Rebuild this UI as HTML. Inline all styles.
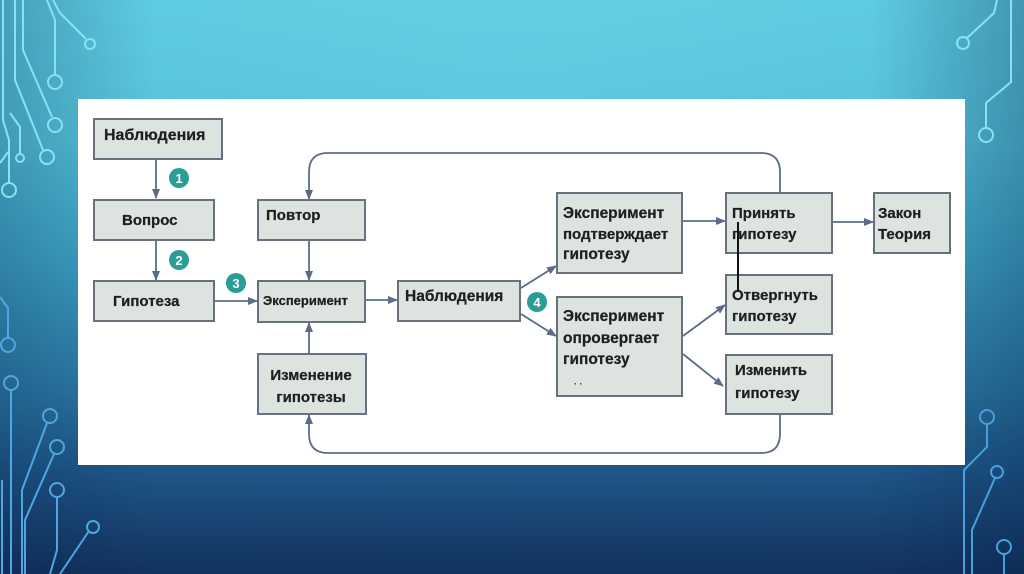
<!DOCTYPE html>
<html>
<head>
<meta charset="utf-8">
<style>
  html,body{margin:0;padding:0;}
  body{width:1024px;height:574px;overflow:hidden;position:relative;
    background:linear-gradient(180deg,#5dcbe0 0%,#55c2da 25%,#3fa6c7 45%,#2b7ba6 68%,#1d5283 84%,#12325d 100%);
    font-family:"Liberation Sans",sans-serif;}
  .shade{position:absolute;left:0;top:0;width:1024px;height:574px;
    background:radial-gradient(ellipse 70% 90% at 50% 0%,rgba(120,220,235,0.25) 0%,rgba(0,0,0,0) 60%),
      linear-gradient(90deg,rgba(5,30,70,0.25) 0%,rgba(0,0,0,0) 15%,rgba(0,0,0,0) 85%,rgba(5,30,70,0.3) 100%);}
  svg{position:absolute;left:0;top:0;}
  text{font-family:"Liberation Sans",sans-serif;font-weight:bold;fill:#1f1f1f;stroke:#1f1f1f;stroke-width:0.25;}
</style>
</head>
<body>
<div class="shade"></div>
<svg width="1024" height="574" viewBox="0 0 1024 574">
  <defs>
    <marker id="a" markerWidth="10" markerHeight="8" refX="9" refY="4" orient="auto" markerUnits="userSpaceOnUse">
      <path d="M0,0 L10,4 L0,8 z" fill="#5b6b88"/>
    </marker>
  </defs>

  <!-- circuit decorations top-left -->
  <g fill="none" stroke="#86e3f2" stroke-width="2">
    <path d="M53,0 L60,13 L86,39"/><circle cx="90" cy="44" r="5"/>
    <path d="M47,0 L55,20 L55,76"/><circle cx="55" cy="82" r="7"/>
    <path d="M23,0 L23,50 L52,117"/><circle cx="55" cy="125" r="7"/>
    <path d="M15,0 L15,80 L43,150"/><circle cx="47" cy="157" r="7"/>
    <path d="M10,113 L20,127 L20,154"/><circle cx="20" cy="158" r="4"/>
    <path d="M0,163 L8,152"/>
    <path d="M3,0 L3,120 L9,140 L9,183"/><circle cx="9" cy="190" r="7"/>
  </g>
  <!-- circuit decorations bottom-left -->
  <g fill="none" stroke="#4fa6e0" stroke-width="2">
    <path d="M0,297 L8,308 L8,338"/><circle cx="8" cy="345" r="7"/>
    <circle cx="11" cy="383" r="7"/><path d="M11,390 L11,574"/>
    <circle cx="50" cy="416" r="7"/><path d="M47,423 L22,490 L22,574"/>
    <circle cx="57" cy="447" r="7"/><path d="M54,454 L25,520 L25,574"/>
    <circle cx="57" cy="490" r="7"/><path d="M57,497 L57,550 L50,574"/>
    <circle cx="93" cy="527" r="6"/><path d="M89,531 L60,574"/>
    <path d="M2,480 L2,574"/>
  </g>
  <!-- circuit decorations top-right -->
  <g fill="none" stroke="#86e3f2" stroke-width="2">
    <path d="M997,0 L994,13 L967,38"/><circle cx="963" cy="43" r="6"/>
    <path d="M1011,0 L1011,82 L986,103 L986,128"/><circle cx="986" cy="135" r="7"/>
  </g>
  <!-- circuit decorations bottom-right -->
  <g fill="none" stroke="#4a9edd" stroke-width="2">
    <circle cx="987" cy="417" r="7"/><path d="M987,424 L987,447 L964,470 L964,574"/>
    <circle cx="997" cy="472" r="6"/><path d="M995,478 L972,530 L972,574"/>
    <circle cx="1004" cy="547" r="7"/><path d="M1004,554 L1004,574"/>
  </g>

  <!-- white panel -->
  <rect x="78" y="99" width="887" height="366" fill="#ffffff"/>

  <!-- connectors -->
  <g fill="none" stroke="#5b6b88" stroke-width="1.8">
    <path d="M156,160 L156,198" marker-end="url(#a)"/>
    <path d="M156,241 L156,280" marker-end="url(#a)"/>
    <path d="M215,301 L257,301" marker-end="url(#a)"/>
    <path d="M309,241 L309,280" marker-end="url(#a)"/>
    <path d="M309,353 L309,323" marker-end="url(#a)"/>
    <path d="M366,300 L397,300" marker-end="url(#a)"/>
    <path d="M521,288 L556,266" marker-end="url(#a)"/>
    <path d="M521,314 L556,336" marker-end="url(#a)"/>
    <path d="M683,221 L725,221" marker-end="url(#a)"/>
    <path d="M833,222 L873,222" marker-end="url(#a)"/>
    <path d="M683,336 L725,305" marker-end="url(#a)"/>
    <path d="M683,354 L723,386" marker-end="url(#a)"/>
    <path d="M780,193 L780,172 Q780,153 761,153 L328,153 Q309,153 309,172 L309,199" marker-end="url(#a)"/>
    <path d="M780,415 L780,434 Q780,453 761,453 L328,453 Q309,453 309,434 L309,415" marker-end="url(#a)"/>
  </g>

  <!-- boxes -->
  <g fill="#dde4e0" stroke="#68727f" stroke-width="2">
    <rect x="94" y="119" width="128" height="40"/>
    <rect x="94" y="200" width="120" height="40"/>
    <rect x="94" y="281" width="120" height="40"/>
    <rect x="258" y="200" width="107" height="40"/>
    <rect x="258" y="281" width="107" height="41"/>
    <rect x="258" y="354" width="108" height="60"/>
    <rect x="398" y="281" width="122" height="40"/>
    <rect x="557" y="193" width="125" height="80"/>
    <rect x="557" y="297" width="125" height="99"/>
    <rect x="726" y="193" width="106" height="60"/>
    <rect x="874" y="193" width="76" height="60"/>
    <rect x="726" y="275" width="106" height="59"/>
    <rect x="726" y="355" width="106" height="59"/>
  </g>

  <!-- black vertical stroke -->
  <path d="M738,222 L738,292" stroke="#111" stroke-width="2"/>

  <!-- labels -->
  <text x="104" y="140" font-size="16">Наблюдения</text>
  <text x="122" y="225" font-size="15">Вопрос</text>
  <text x="113" y="306" font-size="15">Гипотеза</text>
  <text x="266" y="220" font-size="15">Повтор</text>
  <text x="263" y="305" font-size="13">Эксперимент</text>
  <text x="311" y="380" font-size="15" text-anchor="middle">Изменение</text>
  <text x="311" y="402" font-size="15" text-anchor="middle">гипотезы</text>
  <text x="405" y="301" font-size="15.5">Наблюдения</text>
  <text x="563" y="218" font-size="15.5">Эксперимент</text>
  <text x="563" y="239" font-size="15">подтверждает</text>
  <text x="563" y="259" font-size="15.5">гипотезу</text>
  <text x="563" y="321" font-size="15.5">Эксперимент</text>
  <text x="563" y="343" font-size="15.5">опровергает</text>
  <text x="563" y="364" font-size="15.5">гипотезу</text>
  <text x="574" y="387" font-size="9" fill="#777" style="stroke:none">· ·</text>
  <text x="732" y="218" font-size="15">Принять</text>
  <text x="732" y="239" font-size="15">гипотезу</text>
  <text x="878" y="218" font-size="15">Закон</text>
  <text x="878" y="239" font-size="15">Теория</text>
  <text x="732" y="300" font-size="15">Отвергнуть</text>
  <text x="732" y="321" font-size="15">гипотезу</text>
  <text x="735" y="375" font-size="15">Изменить</text>
  <text x="735" y="398" font-size="15">гипотезу</text>

  <!-- numbered badges -->
  <g fill="#2a9d94">
    <circle cx="179" cy="178" r="10"/>
    <circle cx="179" cy="260" r="10"/>
    <circle cx="236" cy="283" r="10"/>
    <circle cx="537" cy="302" r="10"/>
  </g>
  <g font-size="13" text-anchor="middle">
    <text x="179" y="183" style="fill:#fff;stroke:none">1</text>
    <text x="179" y="265" style="fill:#fff;stroke:none">2</text>
    <text x="236" y="288" style="fill:#fff;stroke:none">3</text>
    <text x="537" y="307" style="fill:#fff;stroke:none">4</text>
  </g>
</svg>
</body>
</html>
